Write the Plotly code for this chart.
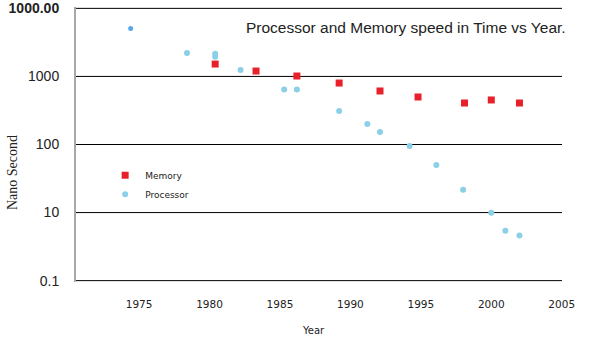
import plotly.graph_objects as go

# ---- data ----
memory_years = [1980.4, 1983.3, 1986.2, 1989.2, 1992.1, 1994.8, 1998.1, 2000.0, 2002.0]
memory_ns = [1520, 1200, 1014, 800, 611, 499, 407, 451, 407]

processor_years = [1974.4, 1978.4, 1980.4, 1980.4, 1982.2, 1985.3, 1986.2, 1989.2,
                   1991.2, 1992.1, 1994.2, 1996.1, 1998.0, 2000.0, 2001.0, 2002.0]
processor_ns = [5040, 2200, 2150, 1950, 1240, 642, 642, 311,
                200, 153, 95, 50, 21.6, 9.9, 5.4, 4.6]

x_ticks = [1975, 1980, 1985, 1990, 1995, 2000, 2005]
y_tickvals = [1, 10, 100, 1000, 10000]
y_ticktext = ["0.1", "10", "100", "1000", "<b>1000.00</b>"]

title_text = "Processor and Memory speed in Time vs Year."

# ---- figure ----
fig = go.Figure()
fig.add_trace(go.Scatter(
    x=memory_years, y=memory_ns, mode="markers", name="Memory",
    marker=dict(symbol="square", size=7, color="#e8202a"),
))
fig.add_trace(go.Scatter(
    x=processor_years[1:], y=processor_ns[1:], mode="markers", name="Processor",
    legendgroup="proc",
    marker=dict(symbol="circle", size=6, color="#8ccfe9"),
))
fig.add_trace(go.Scatter(
    x=processor_years[:1], y=processor_ns[:1], mode="markers", name="Processor",
    legendgroup="proc", showlegend=False,
    marker=dict(symbol="circle", size=5, color="#58a8ee"),
))

TOP, BOT = 7, 66
PH = 348 - TOP - BOT

# horizontal grid lines at every y tick (edge ones included)
grid_shapes = [
    dict(type="line", xref="paper", yref="y", x0=0, x1=1,
         y0=v, y1=v, layer="below",
         line=dict(color="black", width=1))
    for v in y_tickvals
]

fig.update_layout(
    width=595, height=348,
    margin=dict(l=76, r=33, t=TOP, b=BOT, autoexpand=False),
    paper_bgcolor="white", plot_bgcolor="white",
    showlegend=True,
    legend=dict(
        x=0.06, y=0.441, xanchor="left", yanchor="top",
        font=dict(family="DejaVu Sans", size=9, color="#222"),
        bgcolor="rgba(0,0,0,0)", itemsizing="trace", tracegroupgap=0,
    ),
    xaxis=dict(
        range=[1970.52, 2005.02], showgrid=False, zeroline=False, showline=False,
        tickvals=x_ticks, ticks="", ticklabelstandoff=14, automargin=False,
        tickfont=dict(family="DejaVu Sans", size=10.5, color="#222"),
    ),
    yaxis=dict(
        type="log", range=[-0.02, 4.02], tickvals=y_tickvals, ticktext=y_ticktext,
        showgrid=False, zeroline=False,
        showline=True, linecolor="#a8a8a8", linewidth=2, ticks="",
        ticklabelstandoff=12, automargin=False,
        tickfont=dict(family="Liberation Sans", size=14, color="#222"),
    ),
    shapes=grid_shapes,
    annotations=[
        dict(text=title_text, xref="paper", yref="paper", x=(406 - 76) / 486,
             y=1 - (27 - TOP) / PH, xanchor="center", yanchor="middle", showarrow=False,
             font=dict(family="Liberation Sans", size=15.5, color="#222")),
        dict(text="Nano Second", xref="paper", yref="paper", x=-(76 - 12) / 486,
             y=1 - (173 - TOP) / PH, xanchor="center", yanchor="middle", showarrow=False,
             textangle=-90, font=dict(family="Liberation Serif", size=14, color="#222")),
        dict(text="Year", xref="paper", yref="paper", x=(313 - 76) / 486,
             y=-(330 - (348 - BOT)) / PH, xanchor="center", yanchor="middle", showarrow=False,
             font=dict(family="DejaVu Sans", size=10, color="#222")),
    ],
)

fig.write_html("out.html")
